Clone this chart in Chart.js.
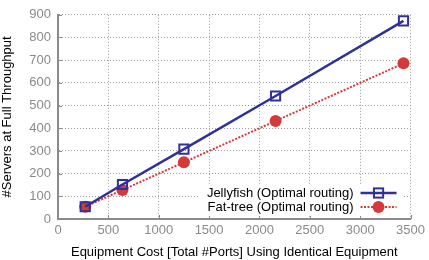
<!DOCTYPE html>
<html>
<head>
<meta charset="utf-8">
<script src="https://cdn.jsdelivr.net/npm/chart.js@4/dist/chart.umd.min.js"></script>
<style>
  html, body { margin: 0; padding: 0; background: #fff; }
  #wrap { width: 429px; height: 260px; }
</style>
</head>
<body>
<div id="wrap"><canvas id="grafico"></canvas></div>
<script>
// total ports for each network size
const puertos = [270, 640, 1250, 2160, 3430];
const jellyfish = [54, 152, 308, 542, 873];
const fatTree = [54, 128, 250, 432, 686];
const nombres = ['Jellyfish (Optimal routing)', 'Fat-tree (Optimal routing)'];

const AZUL = '#30309a';
const ROJO = '#d43a3a';
const GRIS = '#8a8a8a';
const FUENTE = 'Liberation Sans, Arial, sans-serif';

// leyenda dibujada a mano: texto a la izquierda, muestra a la derecha
const leyenda = {
    id: 'leyenda',
    afterDatasetsDraw(chart) {
        const { ctx, chartArea } = chart;
        const x1 = chartArea.right - 50;
        const x2 = chartArea.right - 14;
        const ys = [chartArea.bottom - 26, chartArea.bottom - 12];
        ctx.save();
        ctx.fillStyle = '#fff';
        ctx.fillRect(chartArea.right - 212, chartArea.bottom - 35, 205, 32);
        chart.data.datasets.forEach((ds, i) => {
            const y = ys[i];
            const xm = (x1 + x2) / 2;
            ctx.font = '13px ' + FUENTE;
            ctx.fillStyle = '#000';
            ctx.textAlign = 'right';
            ctx.textBaseline = 'middle';
            ctx.fillText(ds.label, x1 - 7, y);
            ctx.strokeStyle = ds.borderColor;
            ctx.lineWidth = ds.borderWidth;
            ctx.setLineDash(ds.borderDash || []);
            ctx.beginPath();
            ctx.moveTo(x1, y);
            ctx.lineTo(x2, y);
            ctx.stroke();
            ctx.setLineDash([]);
            ctx.fillStyle = ds.pointBackgroundColor;
            ctx.strokeStyle = ds.borderColor;
            ctx.lineWidth = ds.pointBorderWidth;
            if (ds.pointStyle === 'circle') {
                ctx.beginPath();
                ctx.arc(xm, y, ds.pointRadius, 0, Math.PI * 2);
                ctx.fill();
            } else {
                const s = ds.pointRadius * Math.SQRT1_2;
                ctx.strokeRect(xm - s, y - s, 2 * s, 2 * s);
            }
        });
        ctx.restore();
    }
};

// marcas cortas hacia dentro sobre los ejes
const marcas = {
    id: 'marcas',
    beforeDatasetsDraw(chart) {
        const { ctx, chartArea, scales } = chart;
        ctx.save();
        ctx.strokeStyle = GRIS;
        ctx.lineWidth = 1;
        scales.x.ticks.forEach((t) => {
            const px = Math.round(scales.x.getPixelForValue(t.value)) + 0.5;
            ctx.beginPath();
            ctx.moveTo(px, chartArea.bottom);
            ctx.lineTo(px, chartArea.bottom - 4);
            ctx.stroke();
        });
        scales.y.ticks.forEach((t) => {
            const py = Math.round(scales.y.getPixelForValue(t.value)) + 0.5;
            ctx.beginPath();
            ctx.moveTo(chartArea.left, py);
            ctx.lineTo(chartArea.left + 4, py);
            ctx.stroke();
        });
        ctx.restore();
    }
};

const puntos = (vals) => puertos.map((x, i) => ({ x: x, y: vals[i] }));

new Chart(document.getElementById('grafico'), {
    type: 'line',
    data: {
        datasets: [
            {
                label: nombres[0],
                data: puntos(jellyfish),
                borderColor: AZUL,
                borderWidth: 2.5,
                pointStyle: 'rect',
                pointRadius: 6.5,
                pointBorderWidth: 2,
                pointBackgroundColor: 'rgba(0,0,0,0)',
                pointBorderColor: AZUL,
            },
            {
                label: nombres[1],
                data: puntos(fatTree),
                borderColor: ROJO,
                borderWidth: 2,
                borderDash: [2, 1.5],
                pointStyle: 'circle',
                pointRadius: 6,
                pointBorderWidth: 0,
                pointBackgroundColor: ROJO,
                pointBorderColor: ROJO,
            },
        ],
    },
    options: {
        responsive: true,
        maintainAspectRatio: false,
        animation: false,
        layout: { padding: { top: 6, right: 17, left: 0, bottom: 0 } },
        plugins: {
            legend: { display: false },
            tooltip: { enabled: false },
        },
        scales: {
            x: {
                type: 'linear',
                min: 0,
                max: 3500,
                ticks: { stepSize: 500, color: GRIS, font: { family: FUENTE, size: 13 }, padding: 4, callback: (v) => String(v) },
                grid: { color: '#9a9a9a', lineWidth: 1, drawTicks: false },
                border: { color: GRIS, width: 2, dash: [1, 2] },
                title: { display: true, text: 'Equipment Cost [Total #Ports] Using Identical Equipment', color: '#000', font: { family: FUENTE, size: 13 }, padding: { top: 4, bottom: 0 } },
                afterFit: (s) => { s.height = 41; },
            },
            y: {
                min: 0,
                max: 900,
                ticks: { stepSize: 100, color: GRIS, font: { family: FUENTE, size: 13 }, padding: 7, callback: (v) => String(v) },
                grid: { color: '#9a9a9a', lineWidth: 1, drawTicks: false },
                border: { color: GRIS, width: 2, dash: [1, 2] },
                title: { display: true, text: '#Servers at Full Throughput', color: '#000', font: { family: FUENTE, size: 13 }, padding: { top: 0, bottom: 4 } },
                afterFit: (s) => { s.width = 58; },
            },
        },
    },
    plugins: [marcas, leyenda],
});
</script>
</body>
</html>
